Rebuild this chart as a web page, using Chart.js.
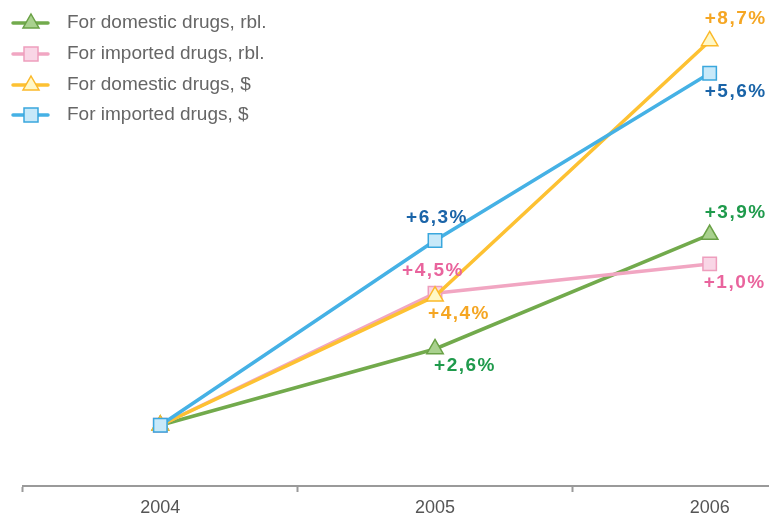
<!DOCTYPE html>
<html>
<head>
<meta charset="utf-8">
<script src="https://cdn.jsdelivr.net/npm/chart.js@4"></script>
<style>
  html, body { margin: 0; padding: 0; background: #fff; overflow: hidden; }
  #wrap { position: relative; width: 769px; height: 515px; overflow: hidden; }
  canvas { position: absolute; left: 0; top: 0; }
  #legend { position: absolute; left: 10px; top: 7px; font-family: "Liberation Sans", Arial, sans-serif; font-size: 19px; color: #666; }
  .item { height: 30.7px; display: flex; align-items: center; }
  .item canvas { position: static; margin-right: 17px; }
</style>
</head>
<body>
<div id="wrap">
  <canvas id="grafico" width="858" height="515"></canvas>
  <div id="legend"></div>
</div>
<script>
// anos e crescimento acumulado (2004 = 0)
const anos = ['2004', '2005', '2006'];
const domesticRbl = [0, 2.6, 6.5];
const importedRbl = [0, 4.5, 5.5];
const domesticUsd = [0, 4.4, 13.1];
const importedUsd = [0, 6.3, 12.0];

// rótulos de crescimento anual
const rotDomesticRbl = ['', '+2,6%', '+3,9%'];
const rotImportedRbl = ['', '+4,5%', '+1,0%'];
const rotDomesticUsd = ['', '+4,4%', '+8,7%'];
const rotImportedUsd = ['', '+6,3%', '+5,6%'];

const series = [
  { label: 'For domestic drugs, rbl.', data: domesticRbl, rot: rotDomesticRbl, line: '#72aa4c', fill: '#a9d18e', border: '#6aa146', estilo: 'triangle', cor: '#1f9a4c',
    offs: [null, [30, 17], [26, -22]] },
  { label: 'For imported drugs, rbl.', data: importedRbl, rot: rotImportedRbl, line: '#f1a6c2', fill: '#f9d6e6', border: '#ee9ebd', estilo: 'rect', cor: '#e9649d',
    offs: [null, [-2, -22], [25, 19]] },
  { label: 'For domestic drugs, $', data: domesticUsd, rot: rotDomesticUsd, line: '#fdc132', fill: '#fff8c6', border: '#fbb92a', estilo: 'triangle', cor: '#f5a623',
    offs: [null, [24, 18], [26, -22]] },
  { label: 'For imported drugs, $', data: importedUsd, rot: rotImportedUsd, line: '#45b1e5', fill: '#c8e9f9', border: '#3aa7dd', estilo: 'rect', cor: '#1a64a8',
    offs: [null, [2, -23], [26, 19]] }
];

// ordem de desenho: o primeiro dataset fica por cima
const ordem = [3, 2, 1, 0];

const datasets = ordem.map(function(i) {
  const s = series[i];
  return {
    label: s.label,
    data: s.data,
    borderColor: s.line,
    borderWidth: 3.5,
    pointStyle: s.estilo,
    pointRadius: s.estilo === 'rect' ? 9.5 : 9.5,
    pointBackgroundColor: s.fill,
    pointBorderColor: s.border,
    pointBorderWidth: 1.5,
    tension: 0,
    clip: false
  };
});

const rotulos = {
  id: 'rotulos',
  afterDatasetsDraw(chart) {
    const ctx = chart.ctx;
    ctx.save();
    ctx.font = 'bold 19px "Liberation Sans", Arial, sans-serif';
    ctx.letterSpacing = '1.5px';
    ctx.textAlign = 'center';
    ctx.textBaseline = 'middle';
    ordem.forEach(function(si, di) {
      const s = series[si];
      const meta = chart.getDatasetMeta(di);
      meta.data.forEach(function(pt, j) {
        if (!s.rot[j]) return;
        ctx.fillStyle = s.cor;
        ctx.fillText(s.rot[j], pt.x + s.offs[j][0], pt.y + s.offs[j][1]);
      });
    });
    ctx.restore();
  }
};

const ctx = document.getElementById('grafico').getContext('2d');
new Chart(ctx, {
  type: 'line',
  data: { labels: anos, datasets: datasets },
  options: {
    responsive: false,
    animation: false,
    layout: { padding: { left: 23, right: 2, top: 0, bottom: 0 } },
    plugins: { legend: { display: false }, tooltip: { enabled: false } },
    scales: {
      x: {
        offset: true,
        afterFit: function(scale) { scale.height = 29; },
        border: { color: '#9a9a9a', width: 2 },
        grid: { drawOnChartArea: false, tickLength: 6, tickWidth: 2, tickColor: '#9a9a9a', offset: true },
        ticks: { color: '#555', padding: 5, font: { family: '"Liberation Sans", Arial, sans-serif', size: 18 } }
      },
      y: { display: false, min: -2.07, max: 14.12 }
    }
  },
  plugins: [rotulos]
});

// legenda em HTML
const legenda = document.getElementById('legend');
series.forEach(function(s) {
  const div = document.createElement('div');
  div.className = 'item';
  const c = document.createElement('canvas');
  c.width = 40; c.height = 22;
  const g = c.getContext('2d');
  g.strokeStyle = s.line; g.lineWidth = 3.5; g.lineCap = 'round';
  g.beginPath(); g.moveTo(3, 12); g.lineTo(38, 12); g.stroke();
  g.fillStyle = s.fill; g.strokeStyle = s.border; g.lineWidth = 1.5;
  g.beginPath();
  if (s.estilo === 'rect') {
    g.rect(14, 5, 14, 14);
  } else {
    g.moveTo(21, 3); g.lineTo(29, 17); g.lineTo(13, 17); g.closePath();
  }
  g.fill(); g.stroke();
  div.appendChild(c);
  const t = document.createElement('span');
  t.textContent = s.label;
  div.appendChild(t);
  legenda.appendChild(div);
});
</script>
</body>
</html>
